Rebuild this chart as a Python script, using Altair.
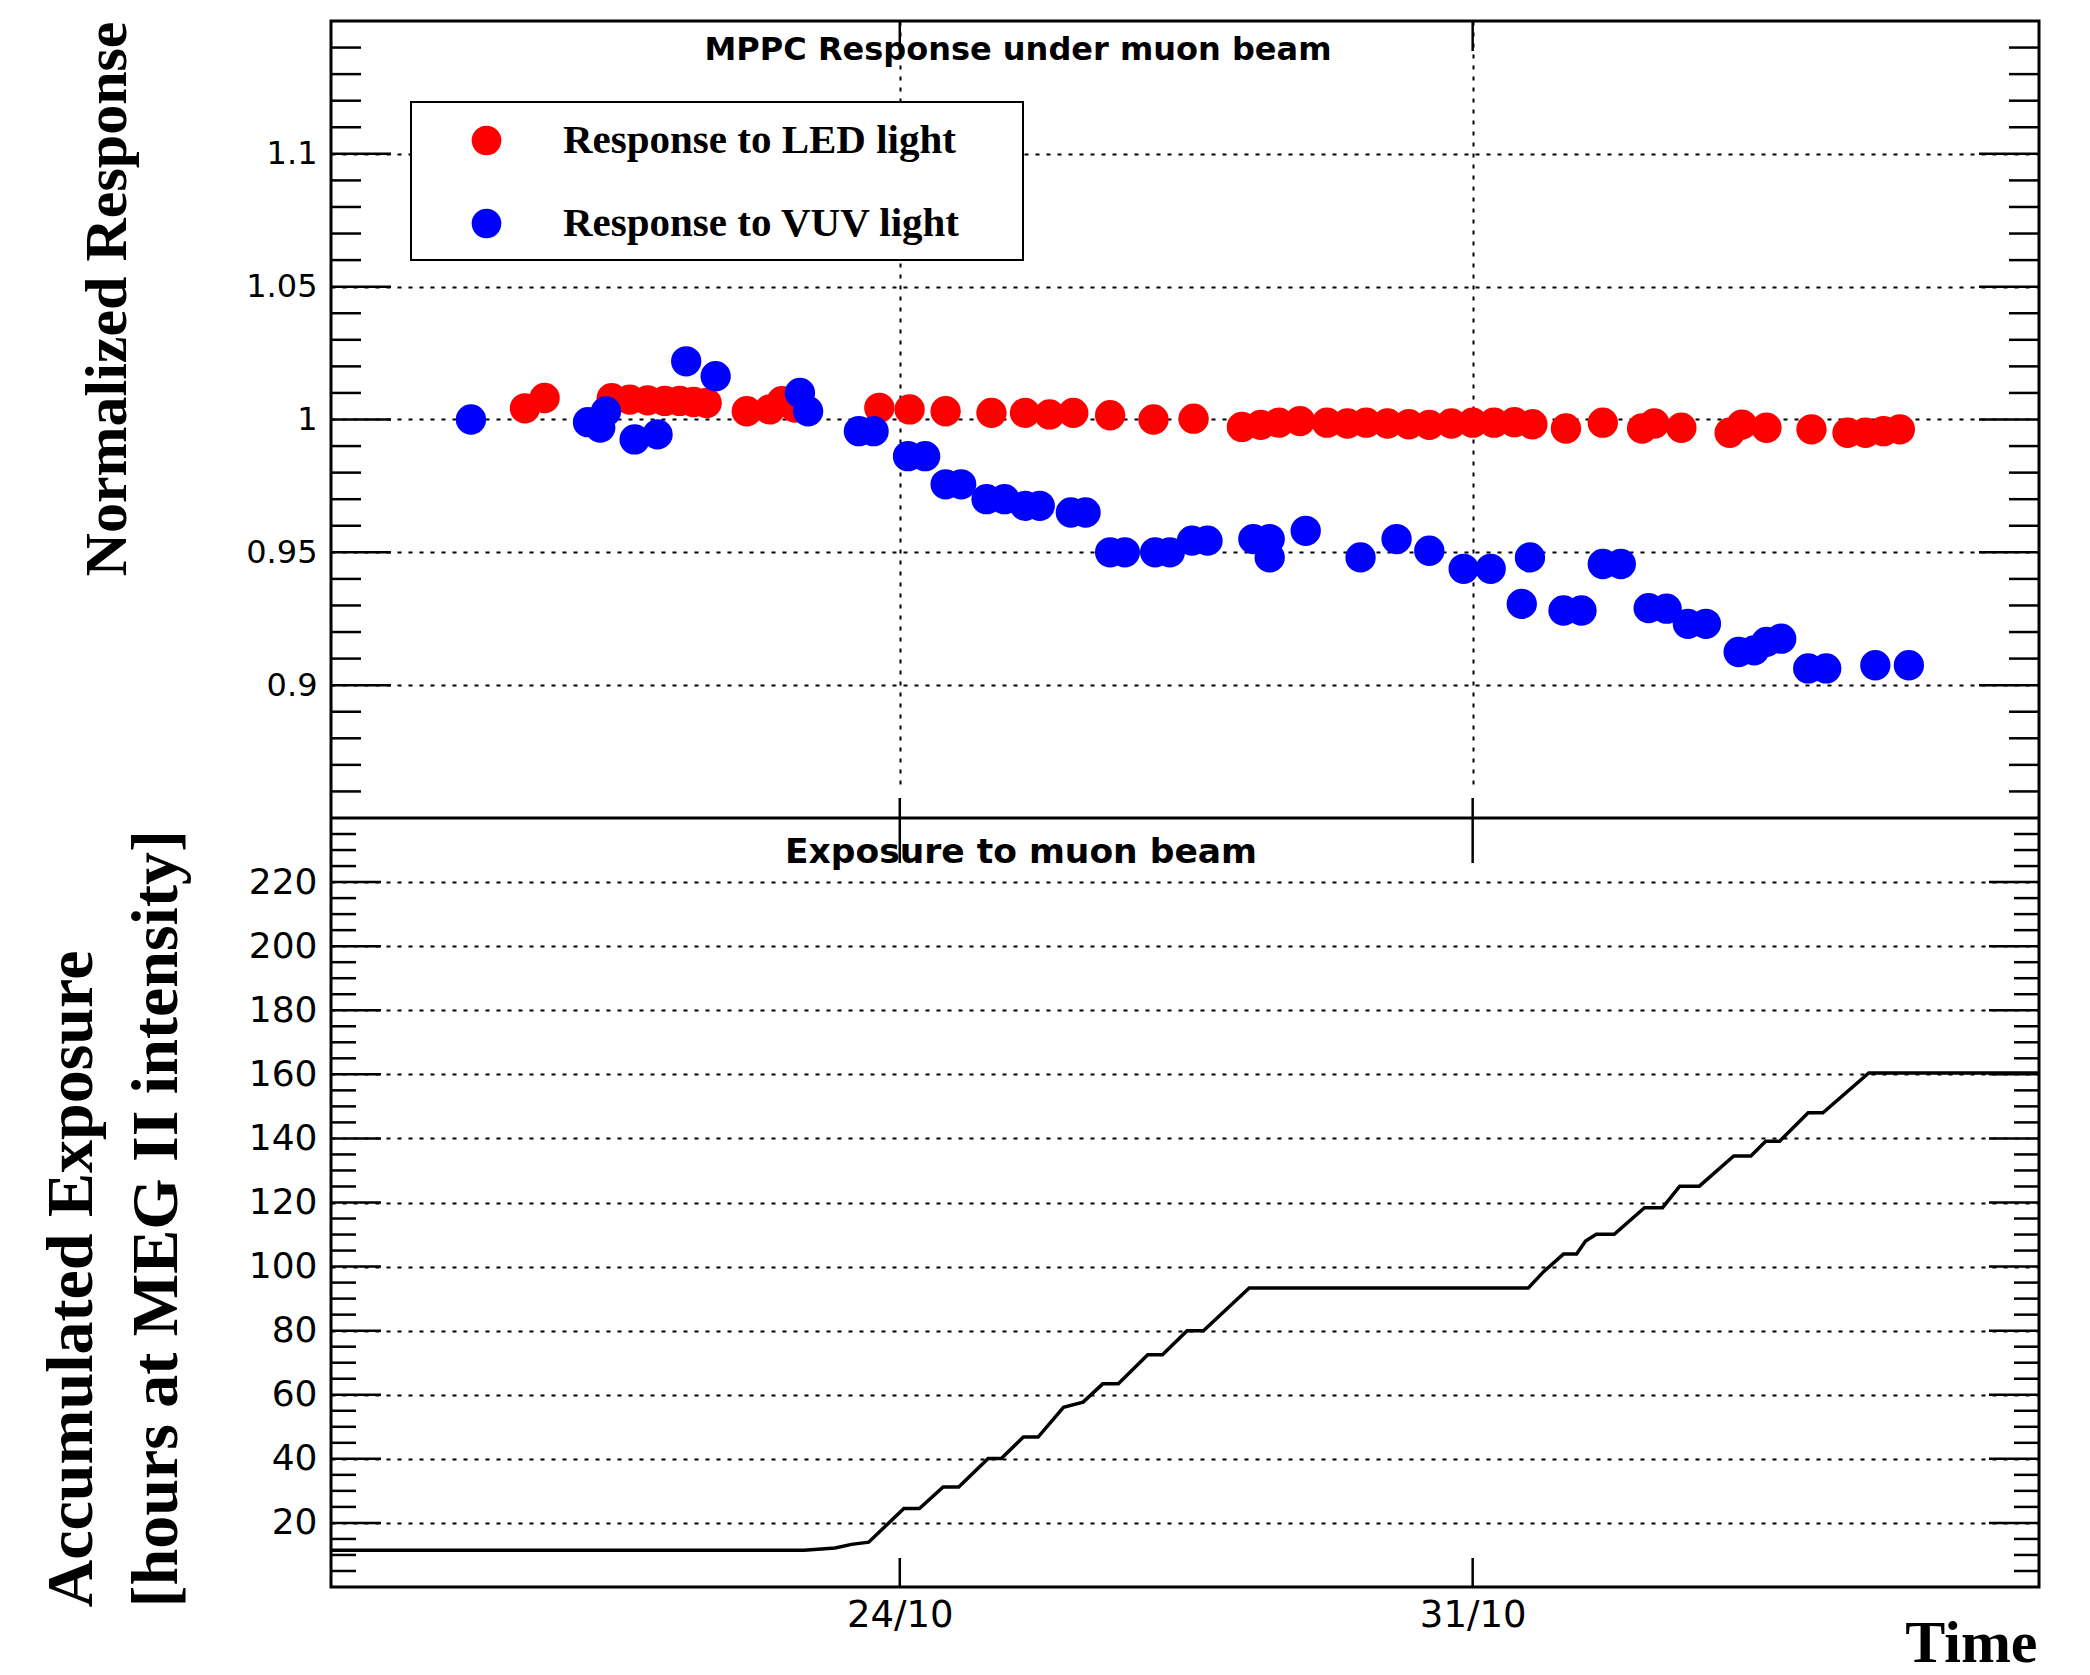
import altair as alt
import pandas as pd

# ---------------- data (x: days relative to 24/10) ----------------
LED_DAY = [-4.58, -4.34, -3.52, -3.30, -3.08, -2.87, -2.69, -2.52, -2.36, -1.87, -1.59, -1.44, -1.28,
           -0.25, 0.12, 0.56, 1.12, 1.53, 1.83, 2.12, 2.57, 3.10, 3.59,
           4.18, 4.41, 4.63, 4.89, 5.22, 5.47, 5.70, 5.96, 6.22, 6.47, 6.74, 7.00, 7.26, 7.51, 7.73,
           8.14, 8.59, 9.07, 9.22, 9.55, 10.14, 10.29, 10.59, 11.14, 11.58, 11.80, 12.02, 12.22]
LED_RESP = [1.0042, 1.0081, 1.0080, 1.0075, 1.0072, 1.0070, 1.0070, 1.0066, 1.0062, 1.0031, 1.0038, 1.0069, 1.0045,
            1.0044, 1.0038, 1.0031, 1.0025, 1.0025, 1.0019, 1.0025, 1.0016, 1.0000, 1.0003,
            0.9972, 0.9980, 0.9988, 0.9994, 0.9988, 0.9985, 0.9988, 0.9985, 0.9982, 0.9980, 0.9985, 0.9988, 0.9988, 0.9990, 0.9982,
            0.9966, 0.9988, 0.9966, 0.9985, 0.9969, 0.9950, 0.9981, 0.9969, 0.9963, 0.9950, 0.9950, 0.9956, 0.9963]

VUV_DAY = [-5.24, -3.81, -3.59, -3.66, -3.24, -2.96, -2.61, -2.25, -1.22, -1.12, -0.50, -0.32, 0.10, 0.31,
           0.56, 0.75, 1.06, 1.28, 1.53, 1.71, 2.09, 2.27, 2.57, 2.75, 3.12, 3.30, 3.57, 3.76, 4.32, 4.52,
           4.52, 4.96, 5.63, 6.07, 6.47, 6.89, 7.22, 7.70, 7.60, 8.11, 8.33, 8.59, 8.81, 9.15, 9.37, 9.63,
           9.85, 10.25, 10.44, 10.59, 10.77, 11.10, 11.32, 11.92, 12.33]
VUV_RESP = [1.0000, 0.9990, 1.0030, 0.9970, 0.9925, 0.9944, 1.0219, 1.0163, 1.0100, 1.0031, 0.9956, 0.9956, 0.9862, 0.9862,
            0.9756, 0.9756, 0.9700, 0.9700, 0.9675, 0.9675, 0.9650, 0.9650, 0.9500, 0.9500, 0.9500, 0.9500, 0.9544, 0.9544, 0.9550, 0.9550,
            0.9481, 0.9581, 0.9481, 0.9550, 0.9506, 0.9438, 0.9438, 0.9481, 0.9306, 0.9281, 0.9281, 0.9456, 0.9456, 0.9290, 0.9288, 0.9231,
            0.9231, 0.9125, 0.9131, 0.9163, 0.9175, 0.9063, 0.9063, 0.9075, 0.9075]

EXPO_DAY = [-6.95, -1.17, -0.79, -0.59, -0.38, 0.05, 0.24, 0.53, 0.72, 1.08, 1.24, 1.51, 1.69, 2.00, 2.24,
            2.48, 2.67, 3.03, 3.21, 3.51, 3.71, 4.27, 7.68, 7.87, 8.11, 8.27, 8.38, 8.51, 8.73, 9.10, 9.32,
            9.53, 9.77, 10.19, 10.40, 10.58, 10.75, 11.10, 11.28, 11.84, 13.92]
EXPO_HOURS = [11.5, 11.5, 12.2, 13.3, 14.0, 24.5, 24.5, 31.2, 31.2, 40.1, 40.1, 46.8, 46.8, 56.1, 57.7,
              63.4, 63.4, 72.5, 72.5, 80.0, 80.0, 93.3, 93.3, 98.5, 103.9, 103.9, 108.0, 110.1, 110.1, 118.4, 118.4,
              125.1, 125.1, 134.5, 134.5, 139.1, 139.1, 148.0, 148.0, 160.4, 160.4]

SERIES = ["Response to LED light", "Response to VUV light"]
SERIES_COLORS = ["#ff0000", "#0000ff"]

X_DOMAIN = [-6.95, 13.92]
X_TICK_DAYS = [0, 7]
X_TICK_LABELS = ["24/10", "31/10"]

TOP_DOMAIN = [0.85, 1.15]
TOP_MAJOR = [0.9, 0.95, 1.0, 1.05, 1.1]
TOP_MINOR = [0.86, 0.87, 0.88, 0.89, 0.91, 0.92, 0.93, 0.94, 0.96, 0.97, 0.98, 0.99,
             1.01, 1.02, 1.03, 1.04, 1.06, 1.07, 1.08, 1.09, 1.11, 1.12, 1.13, 1.14]

BOT_DOMAIN = [0, 240]
BOT_MAJOR = [20, 40, 60, 80, 100, 120, 140, 160, 180, 200, 220]
BOT_MINOR = [5, 10, 15, 25, 30, 35, 45, 50, 55, 65, 70, 75, 85, 90, 95, 105, 110, 115, 125, 130, 135,
             145, 150, 155, 165, 170, 175, 185, 190, 195, 205, 210, 215, 225, 230, 235]

TOP_TITLE = "MPPC Response under muon beam"
BOT_TITLE = "Exposure to muon beam"

# ---------------- layout ----------------
W = 1708
H_TOP = 797
H = 1566

x_scale = alt.Scale(domain=X_DOMAIN, nice=False, zero=False)
top_scale = alt.Scale(domain=TOP_DOMAIN, range=[H_TOP, 0], nice=False, zero=False)
bot_scale = alt.Scale(domain=BOT_DOMAIN, range=[H, H_TOP], nice=False, zero=False)

label_expr = " : ".join(f"datum.value == {d} ? '{l}'" for d, l in zip(X_TICK_DAYS, X_TICK_LABELS)) + " : ''"
GRID_DASH = [4, 7]

x_axis = alt.Axis(values=X_TICK_DAYS, labelExpr=label_expr, labelFont="DejaVu Sans", labelFontSize=37,
                  labelColor="black", labelPadding=10, labelFlush=False, ticks=False, tickSize=0, domain=False,
                  grid=True, gridColor="black", gridDash=GRID_DASH, gridWidth=2,
                  title="Time", titleFont="Liberation Serif", titleFontWeight="bold", titleFontSize=60,
                  titleColor="black", titleAlign="right", titleBaseline="alphabetic", titleX=W - 2, titleY=74)

top_axis = alt.Axis(orient="left", values=TOP_MAJOR, format="~g", labelFont="DejaVu Sans", labelFontSize=32,
                    labelColor="black", labelPadding=14, labelFlush=False, labelOverlap=False,
                    ticks=False, tickSize=0, domain=False,
                    grid=True, gridColor="black", gridDash=GRID_DASH, gridWidth=2,
                    title="Normalized Response", titleFont="Liberation Serif", titleFontWeight="bold",
                    titleFontSize=60, titleColor="black", titleAngle=270, titleAlign="right",
                    titleBaseline="alphabetic", titleX=-206, titleY=0)

bot_axis = alt.Axis(orient="left", values=BOT_MAJOR, format="d", labelFont="DejaVu Sans", labelFontSize=36,
                    labelColor="black", labelPadding=14, labelFlush=False, labelOverlap=False,
                    ticks=False, tickSize=0, domain=False,
                    grid=True, gridColor="black", gridDash=GRID_DASH, gridWidth=2,
                    title=["Accumulated Exposure", "[hours at MEG II intensity]"],
                    titleFont="Liberation Serif", titleFontWeight="bold", titleFontSize=66,
                    titleColor="black", titleAngle=270, titleAlign="left", titleBaseline="alphabetic",
                    titleLineHeight=85, titleX=-240, titleY=1586)

one = pd.DataFrame({"a": [0]})

def yticks(values, scale, length):
    base = alt.Chart(pd.DataFrame({"v": values})).mark_rule(color="black", strokeWidth=2.5)
    y = alt.Y("v:Q", scale=scale, axis=None)
    return [base.encode(y=y, x=alt.value(0), x2=alt.value(length)),
            base.encode(y=y, x=alt.value(W - length), x2=alt.value(W))]

def xticks(y0, y1):
    return alt.Chart(pd.DataFrame({"day": X_TICK_DAYS})).mark_rule(color="black", strokeWidth=2.5).encode(
        x=alt.X("day:Q", scale=x_scale, axis=x_axis), y=alt.value(y0), y2=alt.value(y1))

tick_layers = (yticks(TOP_MAJOR, top_scale, 60) + yticks(TOP_MINOR, top_scale, 30)
               + yticks(BOT_MAJOR, bot_scale, 50) + yticks(BOT_MINOR, bot_scale, 25)
               + [xticks(0, 30), xticks(H_TOP - 20, H_TOP), xticks(H_TOP, H_TOP + 45), xticks(H - 29, H)])

separator = alt.Chart(one).mark_rule(color="black", strokeWidth=3).encode(
    x=alt.value(0), x2=alt.value(W), y=alt.value(H_TOP))

legend_box = alt.Chart(one).mark_rect(fill="white", stroke="black", strokeWidth=2).encode(
    x=alt.value(80), x2=alt.value(692), y=alt.value(81), y2=alt.value(239))

expo_df = pd.DataFrame({"day": EXPO_DAY, "hours": EXPO_HOURS})
line = alt.Chart(expo_df).mark_line(color="black", strokeWidth=3.5).encode(
    x=alt.X("day:Q", scale=x_scale, axis=x_axis),
    y=alt.Y("hours:Q", scale=bot_scale, axis=bot_axis))

pts_df = pd.DataFrame({
    "day": LED_DAY + VUV_DAY,
    "resp": LED_RESP + VUV_RESP,
    "series": [SERIES[0]] * len(LED_DAY) + [SERIES[1]] * len(VUV_DAY),
})
pts_df["idx"] = range(len(pts_df))

points = alt.Chart(pts_df).mark_circle(size=920, opacity=1).encode(
    x=alt.X("day:Q", scale=x_scale, axis=x_axis),
    y=alt.Y("resp:Q", scale=top_scale, axis=top_axis),
    color=alt.Color("series:N", scale=alt.Scale(domain=SERIES, range=SERIES_COLORS),
                    legend=alt.Legend(title=None, orient="none", legendX=135, legendY=99,
                                      symbolType="circle", symbolSize=880, symbolStrokeWidth=0,
                                      symbolOpacity=1, labelFont="Liberation Serif", labelFontWeight="bold",
                                      labelFontSize=41, labelColor="black", labelOffset=56, rowPadding=41,
                                      padding=0, labelLimit=1000)),
    order=alt.Order("idx:Q"),
)

title_top = alt.Chart(pd.DataFrame({"t": [TOP_TITLE]})).mark_text(
    font="DejaVu Sans", fontWeight="bold", fontSize=32, color="black", align="center", baseline="alphabetic"
).encode(text="t:N", x=alt.value(687), y=alt.value(39))

title_bot = alt.Chart(pd.DataFrame({"t": [BOT_TITLE]})).mark_text(
    font="DejaVu Sans", fontWeight="bold", fontSize=34.5, color="black", align="center", baseline="alphabetic"
).encode(text="t:N", x=alt.value(690), y=alt.value(842))

chart = alt.layer(*tick_layers, separator, legend_box, line, points, title_top, title_bot).resolve_scale(
    y="independent"
).properties(
    width=W, height=H,
    autosize=alt.AutoSizeParams(type="none"),
    padding={"left": 331, "top": 21, "right": 51, "bottom": 88},
    background="white",
).configure_view(stroke="black", strokeWidth=3)

chart.save("out.html", embed_options={"renderer": "svg", "actions": False})
